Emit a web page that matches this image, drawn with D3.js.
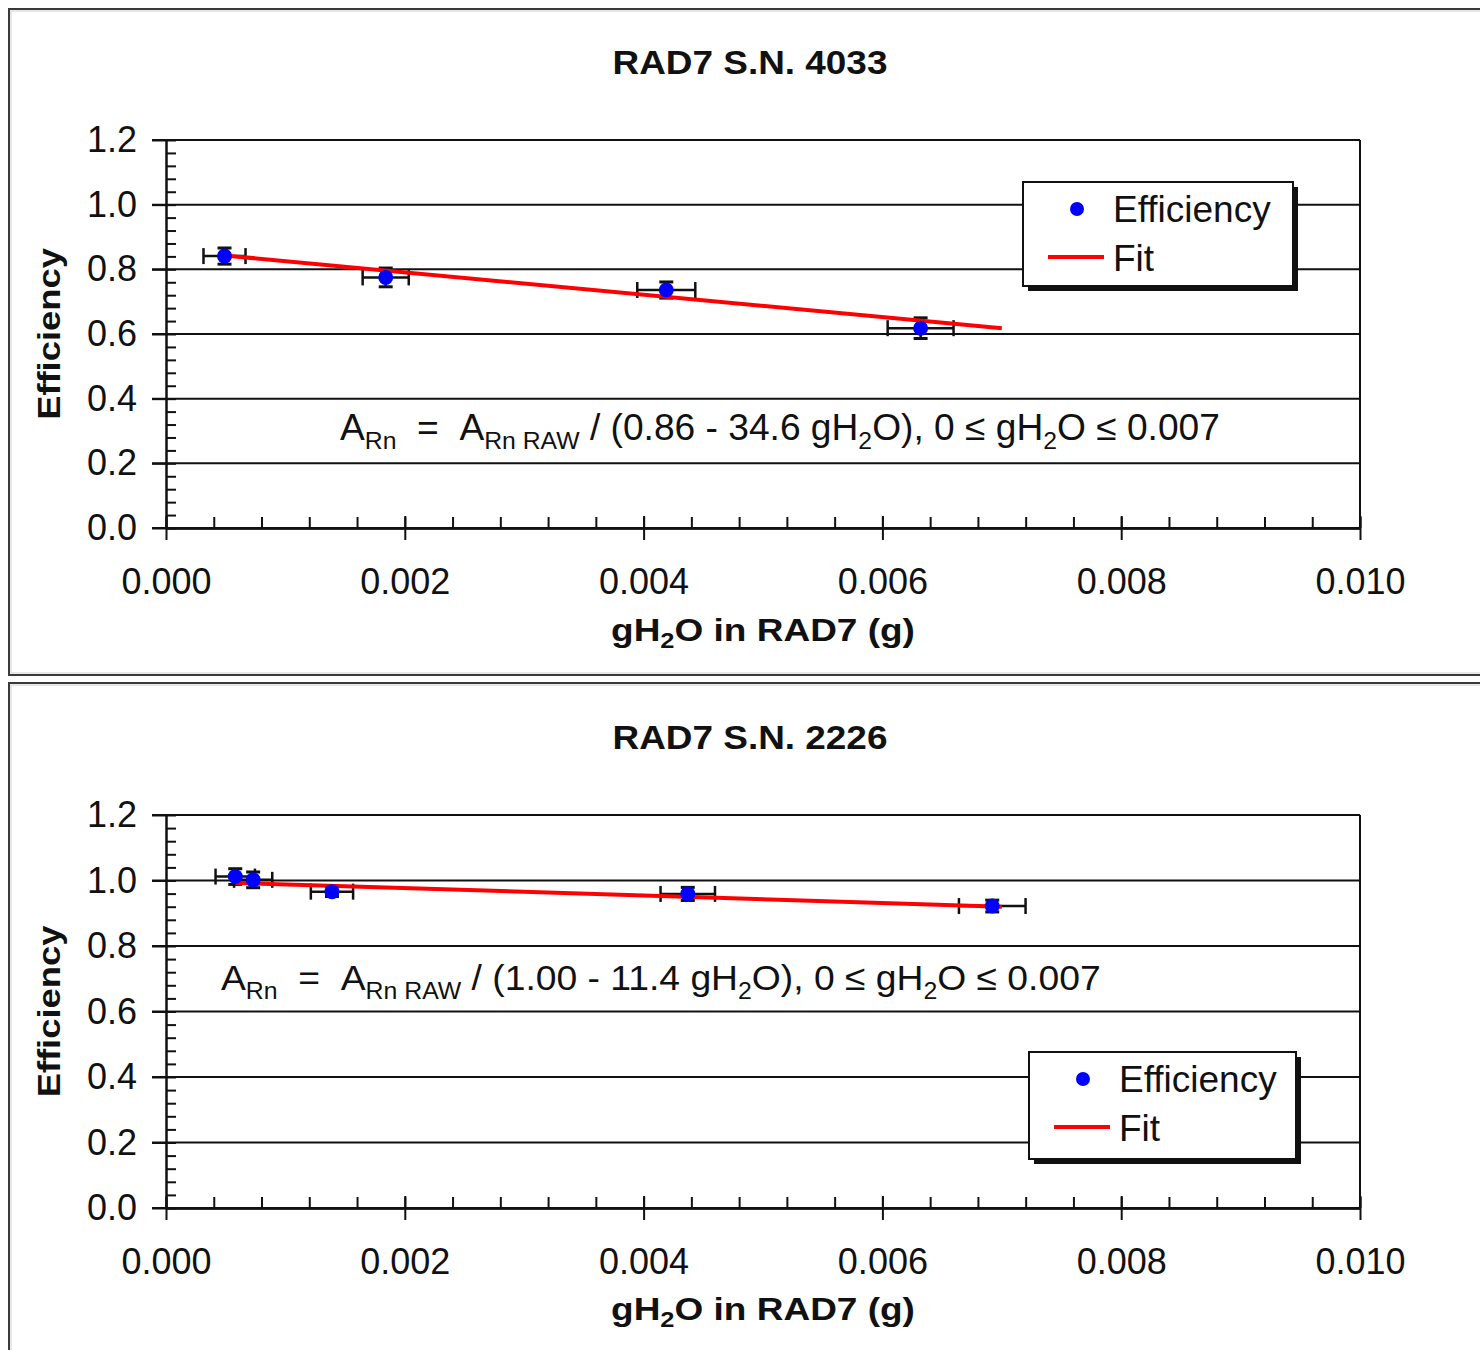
<!DOCTYPE html>
<html>
<head>
<meta charset="utf-8">
<script src="https://cdn.jsdelivr.net/npm/d3@7"></script>
<style>
  body { margin: 0; background: #fff; }
  svg { display: block; font-family: "Liberation Sans", Arial, sans-serif; }
</style>
</head>
<body>
<div id="chart"></div>
<script>
// axis ticks
const xTicks = [0.000, 0.002, 0.004, 0.006, 0.008, 0.010];
const yTicks = [0.0, 0.2, 0.4, 0.6, 0.8, 1.0, 1.2];

// RAD7 S.N. 4033
const sn4033X    = [0.00049, 0.00184, 0.00419, 0.00632];
const sn4033Y    = [0.841, 0.775, 0.736, 0.618];
const sn4033XErr = [0.000176, 0.000193, 0.000243, 0.000276];
const sn4033YErr = [0.025, 0.029, 0.025, 0.032];
const fit4033X   = [0.00049, 0.0070];
const fit4033Y   = [0.843, 0.618];

// RAD7 S.N. 2226
const sn2226X    = [0.00058, 0.00073, 0.00139, 0.00437, 0.00692];
const sn2226Y    = [1.012, 1.002, 0.966, 0.959, 0.922];
const sn2226XErr = [0.000165, 0.000160, 0.000177, 0.000228, 0.000279];
const sn2226YErr = [0.024, 0.024, 0.015, 0.020, 0.018];
const fit2226X   = [0.00058, 0.0070];
const fit2226Y   = [0.993, 0.920];

const eq4033 = [["A"], ["Rn", 1], ["  =  "], ["A"], ["Rn RAW", 1], [" / (0.86 - 34.6 gH"], ["2", 1], ["O), 0 \u2264 gH"], ["2", 1], ["O \u2264 0.007"]];
const eq2226 = [["A"], ["Rn", 1], ["  =  "], ["A"], ["Rn RAW", 1], [" / (1.00 - 11.4 gH"], ["2", 1], ["O), 0 \u2264 gH"], ["2", 1], ["O \u2264 0.007"]];

const W = 1480, H = 1350;
const svg = d3.select("#chart").append("svg").attr("width", W).attr("height", H);

// stretch a text horizontally about a given x so its width matches the reference
function stretchTo(sel, cx, width) {
  const w0 = sel.node().getBBox().width;
  const k = width / w0;
  sel.attr("transform", `translate(${cx},0) scale(${k},1) translate(${-cx},0)`);
}

function addRich(g, parts, x, y, size, subSize) {
  const t = g.append("text").attr("x", x).attr("y", y)
    .style("white-space", "pre").attr("font-size", size).attr("fill", "#111");
  let shifted = false;
  parts.forEach(([s, sub]) => {
    const ts = t.append("tspan").text(s);
    if (sub && !shifted) { ts.attr("font-size", subSize).attr("dy", size * 0.25); shifted = true; }
    else if (!sub && shifted) { ts.attr("dy", -size * 0.25); shifted = false; }
  });
  return t;
}

function drawPanel(cfg) {
  const g = svg.append("g").attr("transform", `translate(0,${cfg.dy})`);

  // panel frame
  g.append("rect").attr("x", 9).attr("y", cfg.frameTop).attr("width", 1500).attr("height", cfg.frameH)
    .attr("fill", "none").attr("stroke", "#3a3a3a").attr("stroke-width", 2);
  g.append("rect").attr("x", 11).attr("y", cfg.frameTop + 2).attr("width", 1500).attr("height", cfg.frameH - 4)
    .attr("fill", "none").attr("stroke", "#cfcfcf").attr("stroke-width", 1);

  const x = d3.scaleLinear().domain([0, 0.01]).range([166, 1360]);
  const y = d3.scaleLinear().domain([0, 1.2]).range([cfg.plotBottom, 140]);

  // title
  const title = g.append("text").attr("x", 750).attr("y", 74).attr("text-anchor", "middle")
    .attr("font-size", 33).attr("font-weight", "bold").attr("fill", "#111").text(cfg.title);
  stretchTo(title, 750, 275);

  // gridlines
  g.append("g").selectAll("line").data(yTicks).join("line")
    .attr("x1", 152).attr("x2", 1360).attr("y1", d => y(d)).attr("y2", d => y(d))
    .attr("stroke", "#111").attr("stroke-width", 2);
  g.append("line").attr("x1", 1360).attr("x2", 1360).attr("y1", y(1.2)).attr("y2", y(0))
    .attr("stroke", "#111").attr("stroke-width", 2);

  // y axis
  g.append("g").attr("transform", "translate(166,0)")
    .call(d3.axisLeft(y).tickValues(yTicks).tickSize(14).tickSizeOuter(0).tickPadding(15).tickFormat(d3.format(".1f")));
  g.append("g").attr("transform", "translate(166,0)")
    .call(d3.axisRight(y).tickValues(d3.range(0, 1.2001, 0.04)).tickSize(10).tickSizeOuter(0).tickFormat(""));

  // x axis
  g.append("g").attr("transform", `translate(0,${cfg.plotBottom})`)
    .call(d3.axisBottom(x).tickValues(xTicks).tickSize(12).tickSizeOuter(0).tickPadding(28).tickFormat(d3.format(".3f")));
  g.append("g").attr("transform", `translate(0,${cfg.plotBottom})`)
    .call(d3.axisTop(x).tickValues(d3.range(0, 0.01001, 0.0004)).tickSize(11).tickSizeOuter(0).tickFormat(""));
  g.append("g").attr("transform", `translate(0,${cfg.plotBottom})`)
    .call(d3.axisTop(x).tickValues(xTicks).tickSize(12).tickSizeOuter(0).tickFormat(""));

  g.selectAll(".domain").attr("stroke", "#111").attr("stroke-width", 2);
  g.selectAll(".tick line").attr("stroke", "#111").attr("stroke-width", 2);
  g.selectAll(".tick text").attr("font-size", 36).attr("fill", "#111")
    .attr("font-family", "'Liberation Sans', Arial, sans-serif");

  // axis labels
  const xl = g.append("text").attr("x", 763).attr("y", cfg.xLabelY).attr("text-anchor", "middle")
    .attr("font-size", 32).attr("font-weight", "bold").attr("fill", "#111");
  xl.append("tspan").text("gH");
  xl.append("tspan").text("2").attr("font-size", 22).attr("dy", 7);
  xl.append("tspan").text("O in RAD7 (g)").attr("dy", -7);
  stretchTo(xl, 763, 304);

  const ylg = g.append("g").attr("transform", `translate(60,${(y(0) + y(1.2)) / 2}) rotate(-90)`);
  const yl = ylg.append("text").attr("x", 0).attr("y", 0).attr("text-anchor", "middle")
    .attr("font-size", 32).attr("font-weight", "bold").attr("fill", "#111").text("Efficiency");
  stretchTo(yl, 0, 172);

  // equation
  const eq = addRich(g, cfg.eq, cfg.eqX, cfg.eqY, 36, 24);
  stretchTo(eq, cfg.eqX, 878);

  const pts = cfg.xs.map((v, i) => ({ x: v, y: cfg.ys[i], ex: cfg.xe[i], ey: cfg.ye[i] }));

  // error bars
  const eb = g.append("g").attr("stroke", "#111");
  eb.selectAll(".hx").data(pts).join("line")
    .attr("x1", d => x(d.x - d.ex)).attr("x2", d => x(d.x + d.ex))
    .attr("y1", d => y(d.y)).attr("y2", d => y(d.y)).attr("stroke-width", 2.5);
  eb.selectAll(".cxl").data(pts).join("line")
    .attr("x1", d => x(d.x - d.ex)).attr("x2", d => x(d.x - d.ex))
    .attr("y1", d => y(d.y) - 8).attr("y2", d => y(d.y) + 8).attr("stroke-width", 2.5);
  eb.selectAll(".cxr").data(pts).join("line")
    .attr("x1", d => x(d.x + d.ex)).attr("x2", d => x(d.x + d.ex))
    .attr("y1", d => y(d.y) - 8).attr("y2", d => y(d.y) + 8).attr("stroke-width", 2.5);
  eb.selectAll(".vy").data(pts).join("line")
    .attr("x1", d => x(d.x)).attr("x2", d => x(d.x))
    .attr("y1", d => y(d.y - d.ey)).attr("y2", d => y(d.y + d.ey)).attr("stroke-width", 2.5);
  eb.selectAll(".cyt").data(pts).join("line")
    .attr("x1", d => x(d.x) - 7).attr("x2", d => x(d.x) + 7)
    .attr("y1", d => y(d.y + d.ey)).attr("y2", d => y(d.y + d.ey)).attr("stroke-width", 3);
  eb.selectAll(".cyb").data(pts).join("line")
    .attr("x1", d => x(d.x) - 7).attr("x2", d => x(d.x) + 7)
    .attr("y1", d => y(d.y - d.ey)).attr("y2", d => y(d.y - d.ey)).attr("stroke-width", 3);

  // fit
  const line = d3.line().x(d => x(d[0])).y(d => y(d[1]));
  g.append("path").datum(cfg.fx.map((v, i) => [v, cfg.fy[i]]))
    .attr("d", line).attr("fill", "none").attr("stroke", "#ff0000").attr("stroke-width", 4);

  // points
  g.append("g").selectAll("circle").data(pts).join("circle")
    .attr("cx", d => x(d.x)).attr("cy", d => y(d.y)).attr("r", 7.5).attr("fill", "#0000ff");

  // legend
  const L = cfg.legend;
  const lg = g.append("g").attr("transform", `translate(${L.x},${L.y})`);
  lg.append("rect").attr("x", 5).attr("y", 5).attr("width", L.w).attr("height", L.h).attr("fill", "#111");
  lg.append("rect").attr("width", L.w).attr("height", L.h).attr("fill", "#fff")
    .attr("stroke", "#111").attr("stroke-width", 2);
  lg.append("circle").attr("cx", 54).attr("cy", 27).attr("r", 7).attr("fill", "#0000ff");
  lg.append("line").attr("x1", 25).attr("x2", 81).attr("y1", 75).attr("y2", 75)
    .attr("stroke", "#ff0000").attr("stroke-width", 4);
  lg.append("text").attr("x", 90).attr("y", 40).attr("font-size", 37).attr("fill", "#111").text("Efficiency");
  lg.append("text").attr("x", 90).attr("y", 89).attr("font-size", 37).attr("fill", "#111").text("Fit");
}

drawPanel({
  dy: 0, frameTop: 9, frameH: 666, plotBottom: 528, xLabelY: 641,
  title: "RAD7 S.N. 4033", eq: eq4033, eqX: 340, eqY: 440,
  xs: sn4033X, ys: sn4033Y, xe: sn4033XErr, ye: sn4033YErr, fx: fit4033X, fy: fit4033Y,
  legend: { x: 1023, y: 182, w: 270, h: 104 }
});

drawPanel({
  dy: 675, frameTop: 8, frameH: 700, plotBottom: 533, xLabelY: 645,
  title: "RAD7 S.N. 2226", eq: eq2226, eqX: 221, eqY: 315,
  xs: sn2226X, ys: sn2226Y, xe: sn2226XErr, ye: sn2226YErr, fx: fit2226X, fy: fit2226Y,
  legend: { x: 1029, y: 377, w: 267, h: 107 }
});
</script>
</body>
</html>
